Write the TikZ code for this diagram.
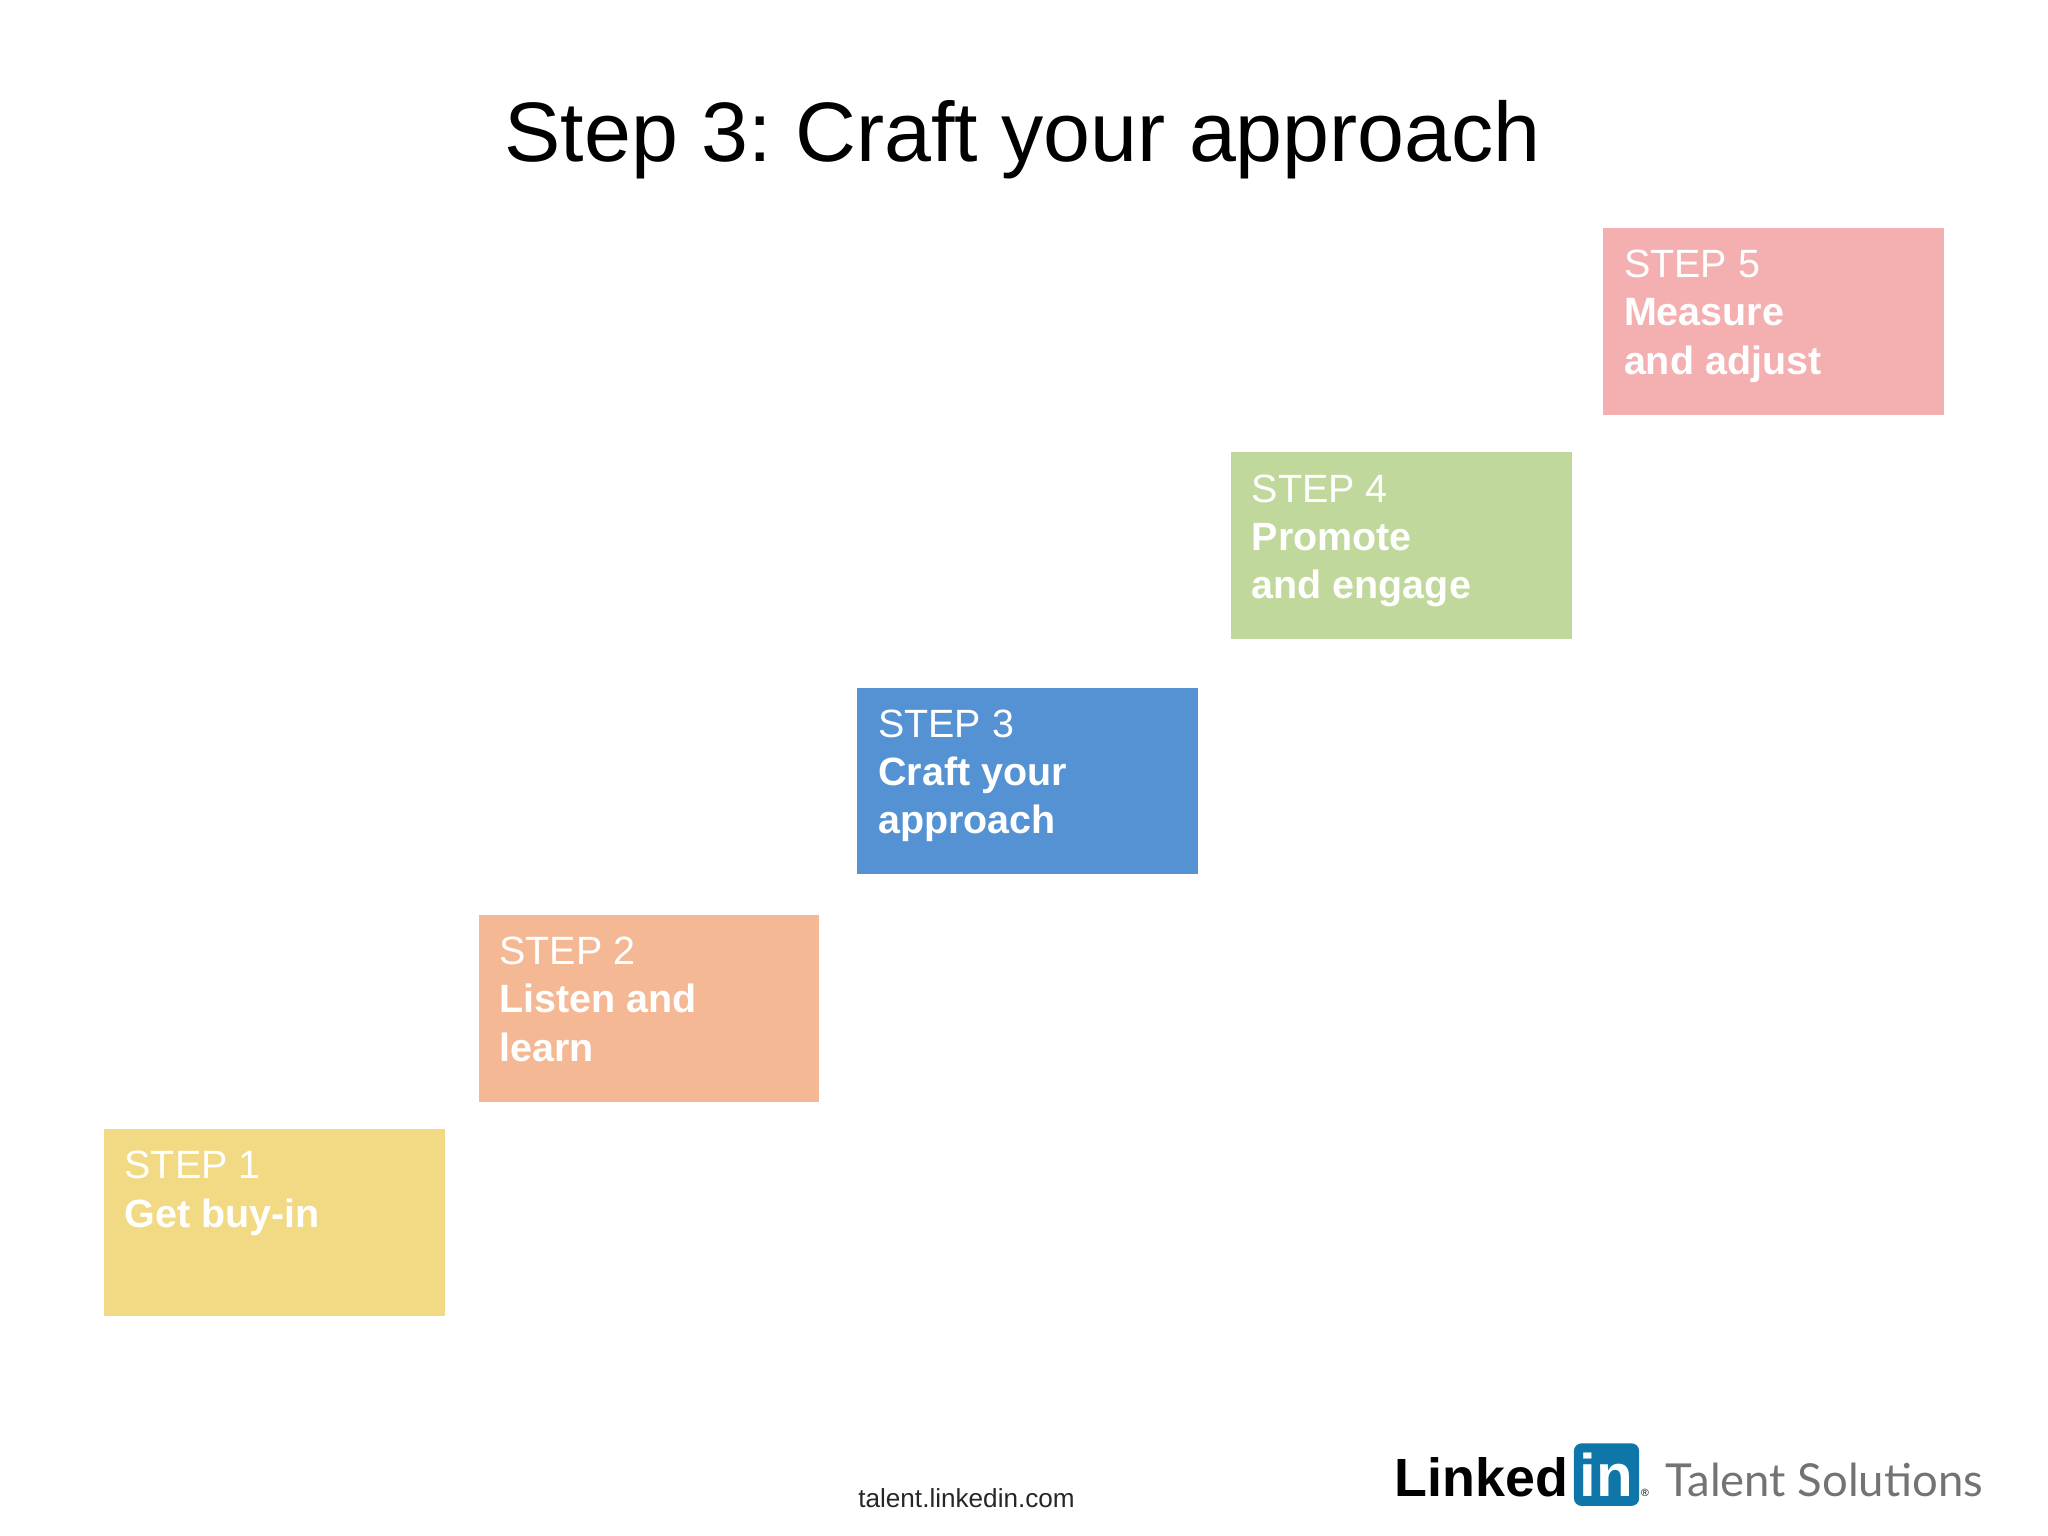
\documentclass[tikz,border=0pt]{standalone}
\usepackage{fontspec}
\setmainfont{Liberation Sans}
\newfontfamily\lato{Lato}
\frenchspacing
\definecolor{c1}{HTML}{F2D984}
\definecolor{c2}{HTML}{F5B895}
\definecolor{c3}{HTML}{5592D3}
\definecolor{c4}{HTML}{C1D89C}
\definecolor{c5}{HTML}{F4B0B1}
\definecolor{lblue}{HTML}{0E76A8}
\begin{document}
\begin{tikzpicture}[x=0.5pt,y=-0.5pt,
  stepbox/.style={minimum width=130.5pt,minimum height=71.5pt,inner sep=0pt,anchor=north west},
  steptext/.style={anchor=north west,text=white,align=left,font=\fontsize{15.1}{18.5}\selectfont,inner sep=0pt}]
\useasboundingbox (0,0) rectangle (1568,1176);
\node[font=\fontsize{32.3}{36}\selectfont,anchor=base] (title) at (783,124) {Step 3: Craft your approach};
\foreach \n/\x/\y/\c/\a/\b/\d in {1/79/864/c1/Get buy-in//,2/366/700/c2/Listen and/learn/,3/656/526/c3/Craft your/approach/,4/942/346/c4/Promote/and engage/,5/1227/174/c5/Measure/and adjust/}{
  \node[stepbox,fill=\c] (b\n) at (\x,\y) {};
  \node[steptext] (t\n) at (\x+16,\y+17) {STEP \n\\\textbf{\a}\\\textbf{\b}};
}
\node[font=\fontsize{10}{12}\selectfont,anchor=base,text=black!85] (url) at (740,1154) {talent.linkedin.com};
\node[font=\fontsize{20.6}{26}\bfseries,anchor=base east,inner sep=0pt] (linked) at (1201,1146) {Linked};
\fill[lblue,rounded corners=3pt] (1205,1105) rectangle (1255,1153);
\node[font=\fontsize{23}{28}\bfseries,anchor=base,text=white,inner sep=0pt] (in) at (1230,1146) {in};
\node[font=\fontsize{4}{5}\selectfont,anchor=base west,inner sep=0pt] (reg) at (1256,1146) {®};
\node[font=\lato\fontsize{17.4}{22}\selectfont,anchor=base west,text=black!55,inner sep=0pt] (ts) at (1275,1146) {Talent Solutions};
\end{tikzpicture}
\end{document}
